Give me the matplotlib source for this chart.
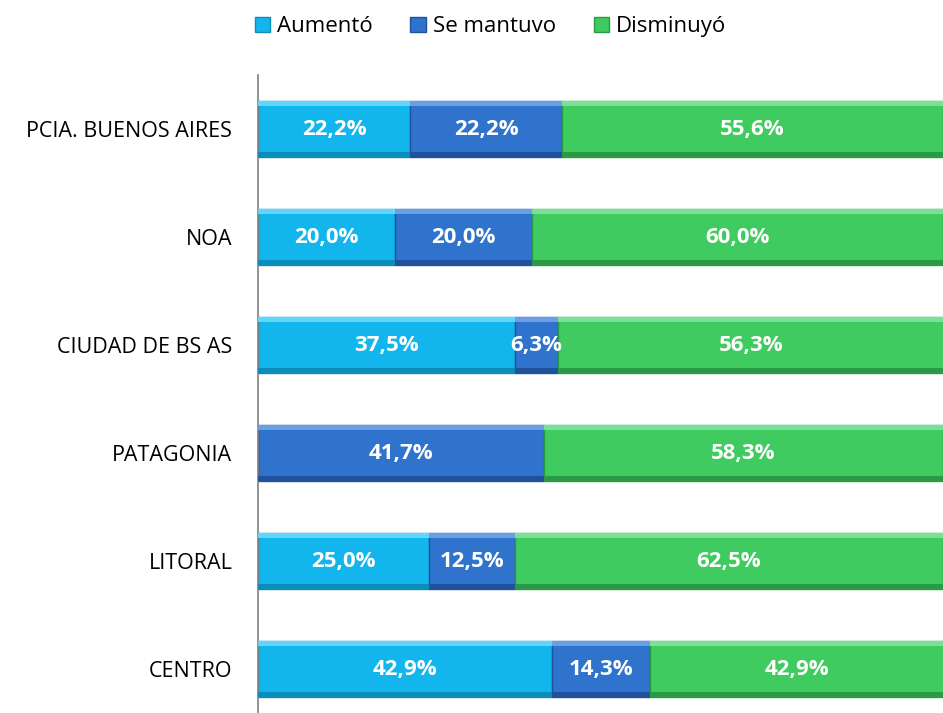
import matplotlib
matplotlib.use("Agg")
import matplotlib.pyplot as plt
from matplotlib.patches import Patch

regions = ["PCIA. BUENOS AIRES", "NOA", "CIUDAD DE BS AS", "PATAGONIA", "LITORAL", "CENTRO"]
aumento = [22.2, 20.0, 37.5, 0.0, 25.0, 42.9]
se_mantuvo = [22.2, 20.0, 6.3, 41.7, 12.5, 14.3]
disminuyo = [55.6, 60.0, 56.3, 58.3, 62.5, 42.9]
series_names = ["Aumentó", "Se mantuvo", "Disminuyó"]

# face, top highlight, bottom shade
colors = ["#12b6ec", "#2f73cd", "#40cb60"]
lights = ["#62d6fa", "#6a9fe6", "#78e196"]
darks = ["#0b8cba", "#1f519c", "#2b9a47"]

plt.rcParams["font.family"] = ["Open Sans", "DejaVu Sans"]

fig = plt.figure(figsize=(9.43, 7.13), dpi=100)
ax = fig.add_axes([258 / 943, -10 / 713, 685 / 943, 648 / 713])

H = 0.52
b = 0.05
ypos = list(range(len(regions)))
left = [0.0] * len(regions)
for vals, col, lt, dk in zip([aumento, se_mantuvo, disminuyo], colors, lights, darks):
    ax.barh(ypos, vals, left=left, height=H, color=col, edgecolor=dk, linewidth=1.0, zorder=2)
    # bevel strips (y axis is inverted: y - H/2 is the top of the bar)
    ax.barh([y - H / 2 for y in ypos], vals, left=left, height=b, align="edge",
            color=lt, linewidth=0, zorder=3)
    ax.barh([y + H / 2 - b for y in ypos], vals, left=left, height=b, align="edge",
            color=dk, linewidth=0, zorder=3)
    for y, v, l in zip(ypos, vals, left):
        if v > 0:
            ax.text(l + v / 2, y, f"{v:.1f}%".replace(".", ","), ha="center", va="center",
                    color="white", fontsize=16, fontweight="bold", zorder=4)
    left = [a + c for a, c in zip(left, vals)]

ax.set_xlim(0, 100)
ax.set_ylim(len(regions) - 0.5, -0.5)
ax.set_yticks(ypos)
ax.set_yticklabels(regions, fontsize=15.5)
ax.tick_params(axis="y", length=0, pad=18.5)
ax.set_xticks([])
for s in ["top", "right", "bottom"]:
    ax.spines[s].set_visible(False)
ax.spines["left"].set_color("#808080")
ax.spines["left"].set_linewidth(1.2)

handles = [Patch(facecolor=c, edgecolor=d) for c, d in zip(colors, darks)]
fig.legend(handles, series_names, loc="upper center", bbox_to_anchor=(0.52, 1.005), ncol=3,
           frameon=False, fontsize=16, handlelength=0.7, handleheight=0.7, handletextpad=0.3,
           columnspacing=1.7)

fig.savefig("out.png", dpi=100)
